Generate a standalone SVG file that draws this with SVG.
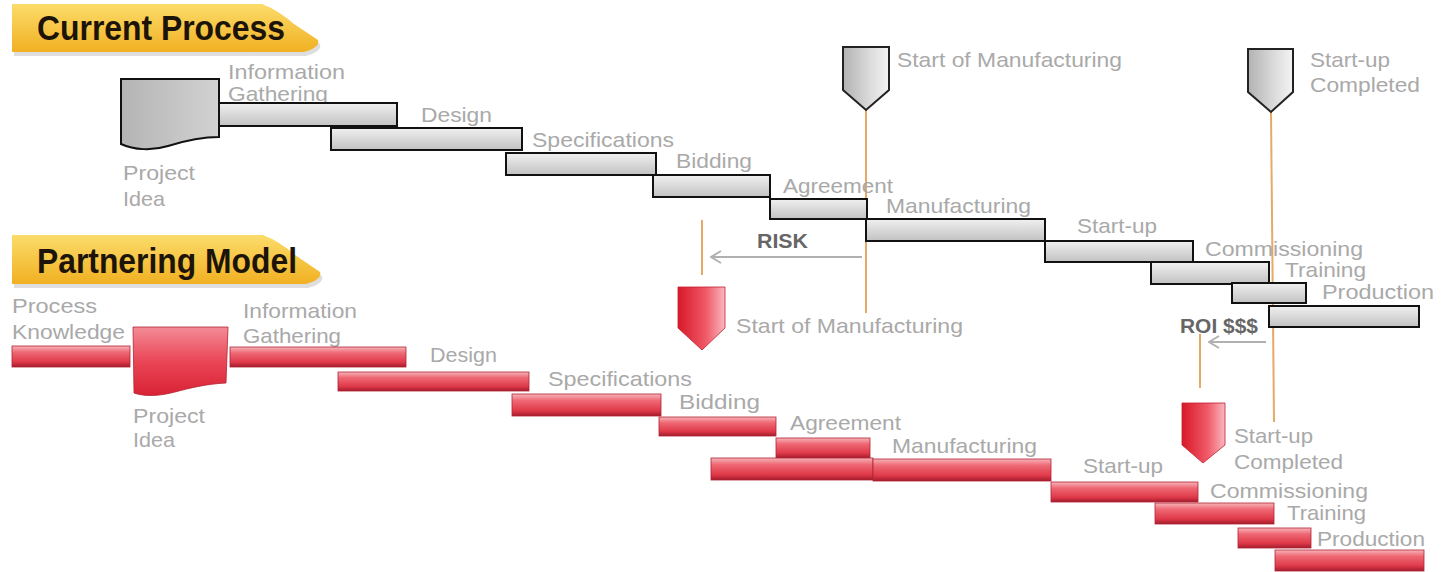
<svg xmlns="http://www.w3.org/2000/svg" width="1441" height="572" viewBox="0 0 1441 572">
<defs>
<linearGradient id="gBar" x1="0" y1="0" x2="0" y2="1"><stop offset="0" stop-color="#f0f0f0"/><stop offset="1" stop-color="#c2c2c2"/></linearGradient>
<linearGradient id="gMark" x1="0" y1="0" x2="1" y2="0"><stop offset="0" stop-color="#b2b2b2"/><stop offset="0.6" stop-color="#dcdcdc"/><stop offset="1" stop-color="#f4f4f4"/></linearGradient>
<linearGradient id="gIdea" x1="0" y1="0" x2="1" y2="0"><stop offset="0" stop-color="#b4b4b4"/><stop offset="1" stop-color="#d2d2d2"/></linearGradient>
<linearGradient id="rBar" x1="0" y1="0" x2="0" y2="1"><stop offset="0" stop-color="#f7b4ba"/><stop offset="0.3" stop-color="#ee6874"/><stop offset="0.75" stop-color="#e03a4a"/><stop offset="1" stop-color="#a41c2c"/></linearGradient>
<linearGradient id="rMark" x1="0" y1="0" x2="1" y2="0"><stop offset="0" stop-color="#d81828"/><stop offset="0.6" stop-color="#f05a68"/><stop offset="1" stop-color="#f9b8c0"/></linearGradient>
<linearGradient id="rIdea" x1="0" y1="0" x2="0" y2="1"><stop offset="0" stop-color="#f38c96"/><stop offset="0.5" stop-color="#ea4656"/><stop offset="1" stop-color="#d82234"/></linearGradient>
<linearGradient id="yel" x1="0" y1="0" x2="0" y2="1"><stop offset="0" stop-color="#fbdc6a"/><stop offset="1" stop-color="#f1b022"/></linearGradient>
<marker id="chev" viewBox="0 0 12 14" refX="11" refY="7" markerWidth="12" markerHeight="14" markerUnits="userSpaceOnUse" orient="auto">
<path d="M1,1 L11,7 L1,13" fill="none" stroke="#b0b0b0" stroke-width="2"/>
</marker>
</defs>
<style>
.lbl{font-family:"Liberation Sans",Arial,sans-serif;font-size:21px;fill:#a9a9a9}
.bold{font-family:"Liberation Sans",Arial,sans-serif;font-size:21px;font-weight:bold;fill:#666}
.hdr{font-family:"Liberation Sans",Arial,sans-serif;font-size:35px;font-weight:bold;fill:#1c1408}
.gbar{fill:url(#gBar);stroke:#111;stroke-width:2}
.rbar{fill:url(#rBar);stroke:#b02434;stroke-width:0.8}
.gmark{fill:url(#gMark);stroke:#222;stroke-width:2}
.rmark{fill:url(#rMark);stroke:#c02030;stroke-width:0.8}
.orange{stroke:#e8a868;stroke-width:2;fill:none}
.arr{stroke:#b0b0b0;stroke-width:2;fill:none}
.ban{fill:url(#yel)}
.shadow{fill:#c8c8c8;opacity:0.6}
</style>
<rect width="1441" height="572" fill="#ffffff"/>

<g id="header-current">
<path class="shadow" d="M14,8 L264,8 Q280,14 296,28 L320,44 Q322,50 312,54 L306,56 L14,56 Z"/>
<path class="ban" d="M12,4 L262,4 Q278,10 294,24 L318,40 Q320,46 310,50 L304,52 L12,52 Z"/>
<text class="hdr" x="37" y="40" textLength="248" lengthAdjust="spacingAndGlyphs">Current Process</text>
</g>
<g id="header-partnering">
<path class="shadow" d="M14,239 L265,239 Q281,245 297,259 L322,276 Q324,282 314,286 L308,288 L14,288 Z"/>
<path class="ban" d="M12,235 L263,235 Q279,241 295,255 L320,272 Q322,278 312,282 L306,284 L12,284 Z"/>
<text class="hdr" x="37" y="273" textLength="260" lengthAdjust="spacingAndGlyphs">Partnering Model</text>
</g>

<g id="connectors">
<line class="orange" x1="866" y1="110" x2="866" y2="313"/>
<line class="orange" x1="1271" y1="112" x2="1274" y2="422"/>
<line class="orange" x1="702" y1="220" x2="702" y2="275"/>
<line class="orange" x1="1200" y1="334" x2="1200" y2="388"/>
<line class="arr" x1="862" y1="257" x2="711" y2="257" marker-end="url(#chev)"/>
<line class="arr" x1="1266" y1="342" x2="1209" y2="342" marker-end="url(#chev)"/>
</g>

<!-- Current process -->
<g id="cp-project-idea">
<path d="M121,79 L219,79 L219,137 C200,137 184,141 168,146 C152,151 134,150 121,144 Z" fill="url(#gIdea)" stroke="#111" stroke-width="2"/>
<text class="lbl" x="123" y="180" textLength="72" lengthAdjust="spacingAndGlyphs">Project</text>
<text class="lbl" x="123" y="206" textLength="42" lengthAdjust="spacingAndGlyphs">Idea</text>
</g>
<g id="cp-info">
<text class="lbl" x="228" y="79" textLength="117" lengthAdjust="spacingAndGlyphs">Information</text>
<text class="lbl" x="228" y="101" textLength="100" lengthAdjust="spacingAndGlyphs">Gathering</text>
<rect class="gbar" x="219" y="103" width="178" height="23"/>
</g>
<g id="cp-design">
<rect class="gbar" x="331" y="128" width="191" height="22"/>
<text class="lbl" x="421" y="122" textLength="71" lengthAdjust="spacingAndGlyphs">Design</text>
</g>
<g id="cp-spec">
<rect class="gbar" x="506" y="153" width="150" height="22"/>
<text class="lbl" x="532" y="147" textLength="142" lengthAdjust="spacingAndGlyphs">Specifications</text>
</g>
<g id="cp-bidding">
<rect class="gbar" x="653" y="175" width="117" height="22"/>
<text class="lbl" x="676" y="168" textLength="76" lengthAdjust="spacingAndGlyphs">Bidding</text>
</g>
<g id="cp-agreement">
<rect class="gbar" x="770" y="199" width="97" height="20"/>
<text class="lbl" x="783" y="193" textLength="110" lengthAdjust="spacingAndGlyphs">Agreement</text>
</g>
<g id="cp-manufacturing">
<rect class="gbar" x="866" y="219" width="179" height="22"/>
<text class="lbl" x="886" y="213" textLength="145" lengthAdjust="spacingAndGlyphs">Manufacturing</text>
</g>
<g id="cp-startup">
<rect class="gbar" x="1045" y="241" width="148" height="21"/>
<text class="lbl" x="1077" y="233" textLength="80" lengthAdjust="spacingAndGlyphs">Start-up</text>
</g>
<g id="cp-commissioning">
<rect class="gbar" x="1151" y="262" width="118" height="22"/>
<text class="lbl" x="1205" y="256" textLength="158" lengthAdjust="spacingAndGlyphs">Commissioning</text>
</g>
<g id="cp-training">
<rect class="gbar" x="1232" y="283" width="74" height="20"/>
<text class="lbl" x="1285" y="277" textLength="81" lengthAdjust="spacingAndGlyphs">Training</text>
</g>
<g id="cp-production">
<rect class="gbar" x="1269" y="306" width="150" height="21"/>
<text class="lbl" x="1322" y="299" textLength="112" lengthAdjust="spacingAndGlyphs">Production</text>
</g>
<g id="cp-start-manufacturing">
<path class="gmark" d="M843,47 L889,47 L889,90 L866,110 L843,90 Z"/>
<text class="lbl" x="897" y="67" textLength="225" lengthAdjust="spacingAndGlyphs">Start of Manufacturing</text>
</g>
<g id="cp-startup-completed">
<path class="gmark" d="M1248,49 L1293,49 L1293,92 L1271,112 L1248,92 Z"/>
<text class="lbl" x="1310" y="67" textLength="80" lengthAdjust="spacingAndGlyphs">Start-up</text>
<text class="lbl" x="1310" y="92" textLength="110" lengthAdjust="spacingAndGlyphs">Completed</text>
</g>
<g id="risk">
<text class="bold" x="757" y="248" textLength="51" lengthAdjust="spacingAndGlyphs">RISK</text>
</g>
<g id="roi">
<text class="bold" x="1180" y="333" textLength="78" lengthAdjust="spacingAndGlyphs">ROI $$$</text>
</g>

<!-- Partnering model -->
<g id="pm-process-knowledge">
<text class="lbl" x="12" y="313" textLength="85" lengthAdjust="spacingAndGlyphs">Process</text>
<text class="lbl" x="12" y="339" textLength="113" lengthAdjust="spacingAndGlyphs">Knowledge</text>
<rect class="rbar" x="12" y="346" width="118" height="21"/>
</g>
<g id="pm-project-idea">
<path d="M133,327 L228,327 L226,383 C206,384 190,388 175,392 C160,396 146,397 134,393 Z" fill="url(#rIdea)" stroke="#b02434" stroke-width="0.8"/>
<text class="lbl" x="133" y="423" textLength="72" lengthAdjust="spacingAndGlyphs">Project</text>
<text class="lbl" x="133" y="447" textLength="42" lengthAdjust="spacingAndGlyphs">Idea</text>
</g>
<g id="pm-info">
<text class="lbl" x="243" y="318" textLength="114" lengthAdjust="spacingAndGlyphs">Information</text>
<text class="lbl" x="243" y="343" textLength="98" lengthAdjust="spacingAndGlyphs">Gathering</text>
<rect class="rbar" x="230" y="347" width="176" height="20"/>
</g>
<g id="pm-design">
<rect class="rbar" x="338" y="372" width="191" height="19"/>
<text class="lbl" x="430" y="362" textLength="67" lengthAdjust="spacingAndGlyphs">Design</text>
</g>
<g id="pm-spec">
<rect class="rbar" x="512" y="394" width="149" height="22"/>
<text class="lbl" x="548" y="386" textLength="144" lengthAdjust="spacingAndGlyphs">Specifications</text>
</g>
<g id="pm-bidding">
<rect class="rbar" x="659" y="417" width="117" height="19"/>
<text class="lbl" x="679" y="409" textLength="81" lengthAdjust="spacingAndGlyphs">Bidding</text>
</g>
<g id="pm-agreement">
<rect class="rbar" x="776" y="438" width="94" height="20"/>
<text class="lbl" x="790" y="430" textLength="111" lengthAdjust="spacingAndGlyphs">Agreement</text>
</g>
<g id="pm-early-manufacturing">
<rect class="rbar" x="711" y="458" width="162" height="22"/>
</g>
<g id="pm-manufacturing">
<rect class="rbar" x="873" y="459" width="178" height="22"/>
<text class="lbl" x="892" y="453" textLength="145" lengthAdjust="spacingAndGlyphs">Manufacturing</text>
</g>
<g id="pm-startup">
<rect class="rbar" x="1051" y="482" width="147" height="20"/>
<text class="lbl" x="1083" y="473" textLength="80" lengthAdjust="spacingAndGlyphs">Start-up</text>
</g>
<g id="pm-commissioning">
<rect class="rbar" x="1155" y="503" width="119" height="21"/>
<text class="lbl" x="1210" y="498" textLength="158" lengthAdjust="spacingAndGlyphs">Commissioning</text>
</g>
<g id="pm-training">
<rect class="rbar" x="1238" y="528" width="73" height="20"/>
<text class="lbl" x="1287" y="520" textLength="79" lengthAdjust="spacingAndGlyphs">Training</text>
</g>
<g id="pm-production">
<rect class="rbar" x="1275" y="550" width="149" height="21"/>
<text class="lbl" x="1317" y="546" textLength="108" lengthAdjust="spacingAndGlyphs">Production</text>
</g>
<g id="pm-start-manufacturing">
<path class="rmark" d="M678,287 L725,287 L725,328 L702,350 L678,328 Z"/>
<text class="lbl" x="736" y="333" textLength="227" lengthAdjust="spacingAndGlyphs">Start of Manufacturing</text>
</g>
<g id="pm-startup-completed">
<path class="rmark" d="M1182,403 L1225,403 L1225,445 L1203,463 L1182,445 Z"/>
<text class="lbl" x="1234" y="443" textLength="79" lengthAdjust="spacingAndGlyphs">Start-up</text>
<text class="lbl" x="1234" y="469" textLength="109" lengthAdjust="spacingAndGlyphs">Completed</text>
</g>
</svg>
